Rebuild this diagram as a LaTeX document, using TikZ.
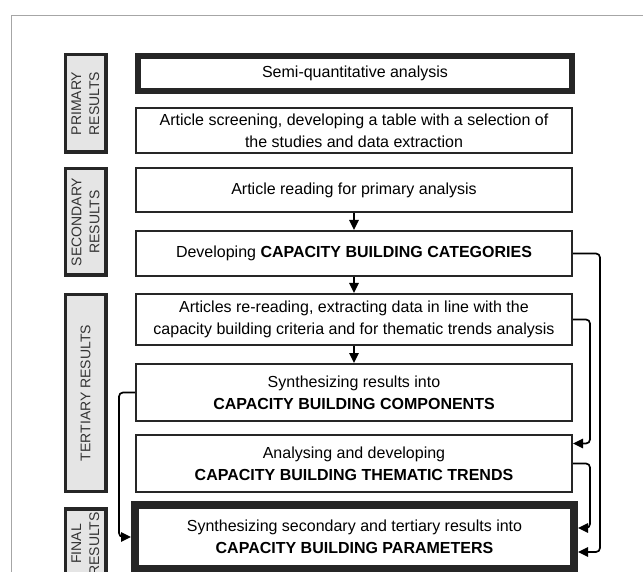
\documentclass[tikz,border=0pt]{standalone}
\usepackage{fontspec}
\setmainfont{Liberation Sans}
\usetikzlibrary{arrows.meta}

\begin{document}
\begin{tikzpicture}[x=1pt, y=-1pt, font=\fontsize{16}{21.7}\selectfont]

% --- Define Styles ---
\tikzset{
    stepbox/.style={draw=black!85, line width=2pt, minimum width=436pt, inner sep=0pt, align=center, fill=white},
    keybox/.style={stepbox, line width=6pt},
    phase/.style={draw=black!85, fill=gray!20, line width=3.5pt, minimum height=40.5pt, inner sep=0pt,
        rotate=90, align=center, text=black!80, font=\fontsize{14}{18}\selectfont},
    flow/.style={-{Triangle[length=10pt,width=9.5pt]}, line width=1.7pt, rounded corners=4pt},
    frame/.style={draw=gray!70, line width=1pt}
}

\useasboundingbox (0,0) rectangle (643,572);
\clip (0,0) rectangle (643,572);
\draw[frame] (11,600) -- (11,16) -- (660,16);

% ================= PHASE LABELS =================
\node[phase, minimum width=97.5pt] (primary) at (85.5,103.5) {PRIMARY\\RESULTS};
\node[phase, minimum width=106.5pt] (secondary) at (85.5,222) {SECONDARY\\RESULTS};
\node[phase, minimum width=196.5pt] (tertiary) at (85.5,393) {TERTIARY RESULTS};
\node[phase, minimum width=70pt] (final) at (85.5,544) {FINAL\\RESULTS};

% ================= STEPS =================
\node[keybox, minimum width=434pt, minimum height=35pt] (semi) at (355,73.5) {Semi-quantitative analysis};
\node[stepbox, minimum height=45pt] (screen) at (354,130.5)
    {Article screening, developing a table with a selection of\\the studies and data extraction};
\node[stepbox, minimum height=44pt] (reading) at (354,190) {Article reading for primary analysis};
\node[stepbox, minimum height=45pt] (categ) at (354,253.5) {Developing \textbf{CAPACITY BUILDING CATEGORIES}};
\node[stepbox, minimum height=51pt] (reread) at (354,319.5)
    {Articles re-reading, extracting data in line with the\\capacity building criteria and for thematic trends analysis};
\node[stepbox, minimum height=57pt] (compon) at (354,392.5)
    {Synthesizing results into\\\textbf{CAPACITY BUILDING COMPONENTS}};
\node[stepbox, minimum height=57pt] (trends) at (354,463.5)
    {Analysing and developing\\\textbf{CAPACITY BUILDING THEMATIC TRENDS}};
\node[keybox, line width=8pt, minimum width=439pt, minimum height=64pt] (param) at (354.5,537)
    {Synthesizing secondary and tertiary results into\\\textbf{CAPACITY BUILDING PARAMETERS}};

% ================= CONNECTORS =================
\draw[flow] (reading) -- (categ);
\draw[flow] (categ) -- (reread);
\draw[flow] (reread) -- (compon);
\draw[flow] (categ.east) -- ++(27,0) |- ([yshift=-15pt]param.east);
\draw[flow] (reread.east) -- ++(17,0) |- ([yshift=20pt]trends.east);
\draw[flow] (trends.east) -- ++(17,0) |- ([yshift=9pt]param.east);
\draw[flow] (compon.west) -- ++(-16,0) |- (param.west);

\end{tikzpicture}
\end{document}
